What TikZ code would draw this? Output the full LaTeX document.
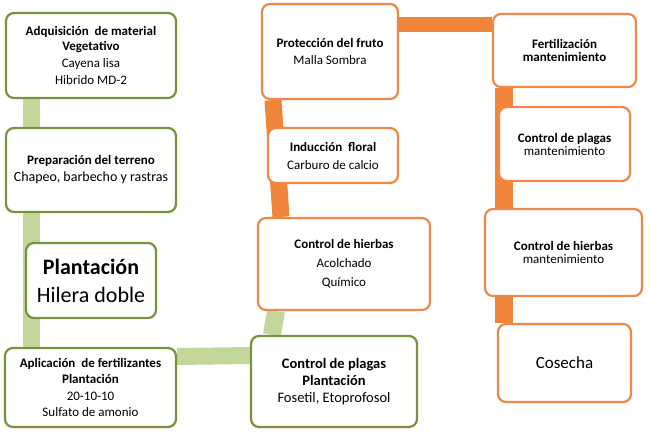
\documentclass[tikz,border=0pt]{standalone}
\usepackage{fontspec}
\setmainfont{Carlito}
\usetikzlibrary{backgrounds}
\definecolor{gline}{RGB}{119,147,60}
\definecolor{glink}{RGB}{196,215,155}
\definecolor{oline}{RGB}{236,136,72}
\definecolor{olink}{RGB}{240,132,56}
\tikzset{
  gbox/.style={draw=gline,line width=2.2pt,rounded corners=8pt,fill=white,
    align=center,inner sep=2pt,font=\fontsize{13}{15}\selectfont},
  obox/.style={gbox,draw=oline},
  mbox/.style={obox,font=\fontsize{13}{13}\selectfont},
  glinkline/.style={draw=glink,line width=17pt},
  olinkline/.style={draw=olink,line width=17pt}
}
\begin{document}
\begin{tikzpicture}[x=1pt,y=-1pt]
  \useasboundingbox (0,0) rectangle (650,435);
  % first column
  \node[gbox,minimum width=170,minimum height=85] (adq) at (91,55.5)
    {\textbf{Adquisición~ de material}\\\textbf{Vegetativo}\\[2pt]Cayena lisa\\[2pt]Hibrido MD-2};
  \node[gbox,minimum width=170,minimum height=84] (prep) at (91,170)
    {\textbf{Preparación del terreno}\\[2pt]{\fontsize{14}{15}\selectfont Chapeo, barbecho y rastras}};
  \node[gbox,minimum width=130,minimum height=75,font=\fontsize{22}{28}\selectfont] (plant) at (91,280.5)
    {\textbf{Plantación}\\Hilera doble};
  \node[gbox,minimum width=171,minimum height=79,font=\fontsize{13}{16.5}\selectfont] (aplic) at (90.5,387.5)
    {\textbf{Aplicación~ de fertilizantes}\\\textbf{Plantación}\\20-10-10\\Sulfato de amonio};
  % second column
  \node[gbox,minimum width=166,minimum height=91,font=\fontsize{14.5}{17}\selectfont] (plagas) at (334,381.5)
    {\textbf{Control de plagas}\\\textbf{Plantación}\\Fosetil, Etoprofosol};
  \node[obox,minimum width=172,minimum height=92,font=\fontsize{13}{19}\selectfont] (hierbas) at (344,264)
    {\textbf{Control de hierbas}\\Acolchado\\Químico};
  \node[obox,minimum width=130,minimum height=55] (induc) at (333,155.5)
    {\textbf{Inducción~ floral}\\[3pt]Carburo de calcio};
  \node[obox,minimum width=136,minimum height=95] (prot) at (330,51.5)
    {\textbf{Protección del fruto}\\[2pt]Malla Sombra};
  % third column
  \node[mbox,minimum width=143,minimum height=73] (fert) at (564.5,50.5)
    {\textbf{Fertilización}\\\textbf{mantenimiento}};
  \node[mbox,minimum width=131,minimum height=74] (plagasm) at (564.5,144)
    {\textbf{Control de plagas}\\mantenimiento};
  \node[mbox,minimum width=157,minimum height=87] (hierbasm) at (563.5,252.5)
    {\textbf{Control de hierbas}\\mantenimiento};
  \node[mbox,minimum width=133,minimum height=78,font=\fontsize{17}{19}\selectfont] (cosecha) at (564.5,363)
    {Cosecha};
  % links
  \begin{scope}[on background layer]
    \draw[glinkline] ([xshift=-60pt]adq.south) -- ([xshift=-59.5pt]aplic.north);
    \draw[glinkline] ([yshift=31pt]aplic.east) -- ([yshift=26pt]plagas.west);
    \draw[glinkline,line width=18pt] ([xshift=-62pt]plagas.north) -- ([xshift=-68pt]hierbas.south);
    \draw[olinkline] ([xshift=-63pt]hierbas.north) -- ([xshift=-57pt]prot.south);
    \draw[olinkline,line width=15pt] ([yshift=27pt]prot.east) -- ([yshift=26pt]fert.west);
    \draw[olinkline,line width=18pt] ([xshift=-60.5pt]fert.south) -- ([xshift=-60.5pt]cosecha.north);
  \end{scope}
\end{tikzpicture}
\end{document}
